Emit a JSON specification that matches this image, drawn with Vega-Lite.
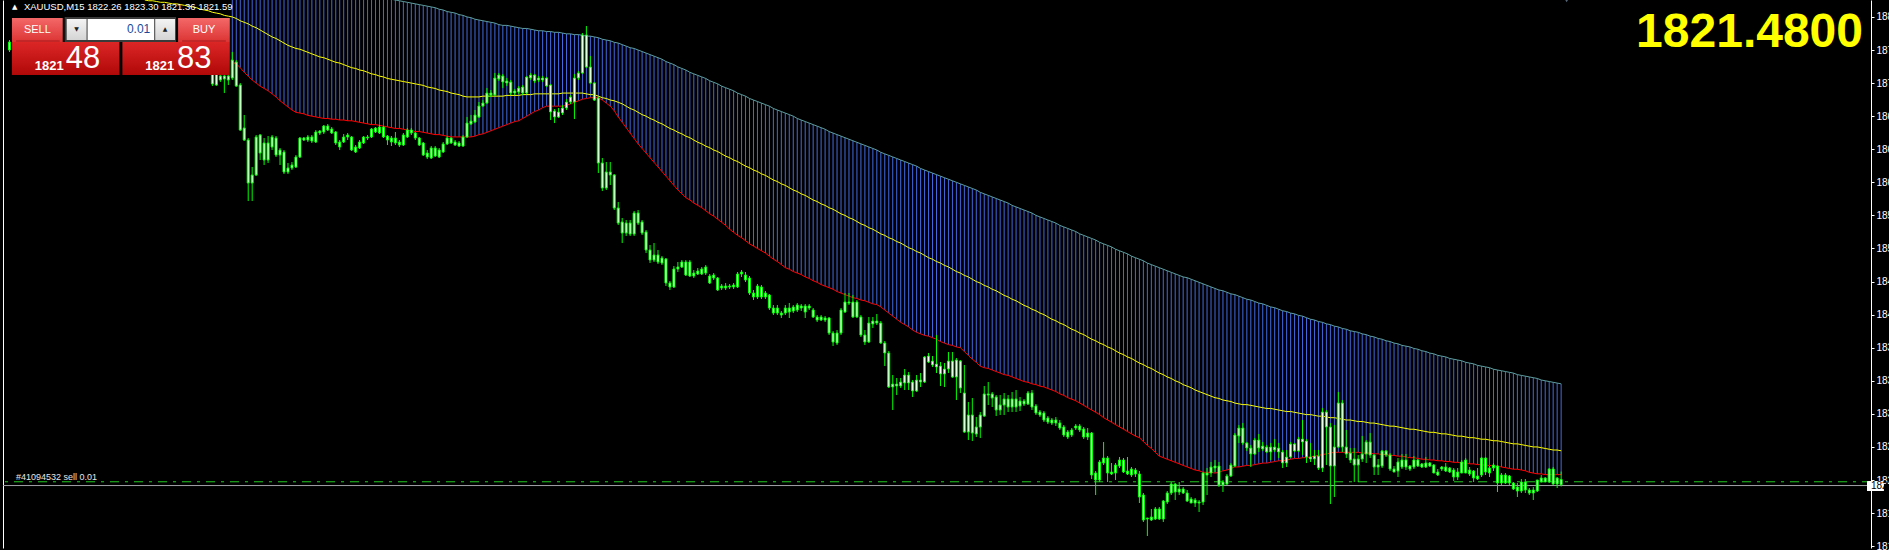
{
"$schema":"https://vega.github.io/schema/vega-lite/v6.json",
"width":1868,"height":548,
"autosize":{"type":"none"},
"padding":{"left":3,"top":0,"right":18,"bottom":2},
"background":"#000000",
"config":{"view":{"stroke":null},"axis":{"grid":false}},
"datasets":{
"bars":[
{"i":0,"o":1879.14,"h":1879.4,"l":1877.84,"c":1878.1},
{"i":51,"o":1875.24,"h":1875.76,"l":1873.42,"c":1873.68},
{"i":52,"o":1873.55,"h":1875.5,"l":1873.42,"c":1874.98},
{"i":53,"o":1874.72,"h":1874.98,"l":1873.94,"c":1874.2},
{"i":54,"o":1874.33,"h":1875.24,"l":1872.51,"c":1874.72},
{"i":55,"o":1874.2,"h":1874.85,"l":1873.55,"c":1874.72},
{"i":56,"o":1874.46,"h":1877.84,"l":1874.2,"c":1876.8},
{"i":57,"o":1876.54,"h":1876.8,"l":1873.29,"c":1873.42},
{"i":58,"o":1873.55,"h":1873.81,"l":1867.57,"c":1867.7},
{"i":59,"o":1867.96,"h":1869.65,"l":1866.27,"c":1866.4},
{"i":60,"o":1866.4,"h":1866.66,"l":1858.47,"c":1860.81},
{"i":61,"o":1860.81,"h":1862.89,"l":1858.47,"c":1861.85},
{"i":62,"o":1861.85,"h":1867.05,"l":1861.72,"c":1866.79},
{"i":63,"o":1867.05,"h":1867.18,"l":1863.8,"c":1864.71},
{"i":64,"o":1863.8,"h":1866.66,"l":1863.15,"c":1866.01},
{"i":65,"o":1866.01,"h":1866.92,"l":1863.41,"c":1863.8},
{"i":66,"o":1865.49,"h":1867.05,"l":1865.1,"c":1866.79},
{"i":67,"o":1866.66,"h":1866.92,"l":1864.19,"c":1864.45},
{"i":68,"o":1865.1,"h":1865.36,"l":1863.15,"c":1864.45},
{"i":69,"o":1864.84,"h":1865.1,"l":1861.98,"c":1862.24},
{"i":70,"o":1862.24,"h":1863.41,"l":1861.98,"c":1862.76},
{"i":71,"o":1862.76,"h":1863.54,"l":1862.5,"c":1863.15},
{"i":72,"o":1862.89,"h":1864.45,"l":1862.76,"c":1864.19},
{"i":73,"o":1864.19,"h":1866.79,"l":1864.06,"c":1866.66},
{"i":74,"o":1866.66,"h":1866.79,"l":1866.27,"c":1866.4},
{"i":75,"o":1866.4,"h":1867.05,"l":1866.14,"c":1866.79},
{"i":76,"o":1866.79,"h":1867.05,"l":1866.01,"c":1866.27},
{"i":77,"o":1866.14,"h":1867.7,"l":1866.01,"c":1867.44},
{"i":78,"o":1867.31,"h":1867.7,"l":1867.05,"c":1867.57},
{"i":79,"o":1867.44,"h":1868.35,"l":1867.18,"c":1868.22},
{"i":80,"o":1868.22,"h":1868.48,"l":1867.57,"c":1867.7},
{"i":81,"o":1867.83,"h":1868.09,"l":1867.18,"c":1867.31},
{"i":82,"o":1867.44,"h":1867.57,"l":1865.75,"c":1866.01},
{"i":83,"o":1865.49,"h":1866.4,"l":1865.1,"c":1866.14},
{"i":84,"o":1866.14,"h":1867.18,"l":1866.01,"c":1866.79},
{"i":85,"o":1867.05,"h":1867.31,"l":1866.4,"c":1866.79},
{"i":86,"o":1866.79,"h":1866.92,"l":1864.97,"c":1865.1},
{"i":87,"o":1864.84,"h":1865.75,"l":1864.71,"c":1865.49},
{"i":88,"o":1865.36,"h":1866.4,"l":1865.23,"c":1866.14},
{"i":89,"o":1866.01,"h":1866.92,"l":1865.88,"c":1866.79},
{"i":90,"o":1866.66,"h":1867.05,"l":1866.4,"c":1866.79},
{"i":91,"o":1866.79,"h":1867.96,"l":1866.66,"c":1867.83},
{"i":92,"o":1867.44,"h":1868.09,"l":1867.31,"c":1867.96},
{"i":93,"o":1868.09,"h":1868.35,"l":1867.18,"c":1867.31},
{"i":94,"o":1868.09,"h":1868.22,"l":1866.66,"c":1866.79},
{"i":95,"o":1866.92,"h":1867.05,"l":1865.75,"c":1866.4},
{"i":96,"o":1866.66,"h":1866.92,"l":1865.62,"c":1866.14},
{"i":97,"o":1866.66,"h":1867.44,"l":1865.75,"c":1866.01},
{"i":98,"o":1865.75,"h":1866.4,"l":1865.49,"c":1866.14},
{"i":99,"o":1865.75,"h":1867.31,"l":1865.62,"c":1867.05},
{"i":100,"o":1866.79,"h":1867.96,"l":1866.66,"c":1867.7},
{"i":101,"o":1867.7,"h":1867.96,"l":1867.05,"c":1867.31},
{"i":102,"o":1867.31,"h":1867.44,"l":1866.4,"c":1866.66},
{"i":103,"o":1866.66,"h":1866.79,"l":1865.62,"c":1865.75},
{"i":104,"o":1866.01,"h":1866.14,"l":1864.32,"c":1864.45},
{"i":105,"o":1864.19,"h":1865.1,"l":1863.93,"c":1864.71},
{"i":106,"o":1864.06,"h":1865.62,"l":1863.93,"c":1865.36},
{"i":107,"o":1865.36,"h":1865.62,"l":1864.19,"c":1864.32},
{"i":108,"o":1864.19,"h":1865.36,"l":1864.06,"c":1865.1},
{"i":109,"o":1864.84,"h":1866.14,"l":1864.71,"c":1865.88},
{"i":110,"o":1865.88,"h":1866.92,"l":1865.75,"c":1866.66},
{"i":111,"o":1866.66,"h":1866.79,"l":1865.88,"c":1866.01},
{"i":112,"o":1866.14,"h":1866.4,"l":1865.62,"c":1865.75},
{"i":113,"o":1865.62,"h":1866.27,"l":1865.49,"c":1866.01},
{"i":114,"o":1865.62,"h":1867.05,"l":1865.49,"c":1866.79},
{"i":115,"o":1866.79,"h":1869.39,"l":1866.66,"c":1868.61},
{"i":116,"o":1868.48,"h":1869.65,"l":1868.35,"c":1868.87},
{"i":117,"o":1868.74,"h":1870.3,"l":1868.61,"c":1869.65},
{"i":118,"o":1869.39,"h":1871.34,"l":1869.26,"c":1870.82},
{"i":119,"o":1870.82,"h":1871.6,"l":1870.69,"c":1871.21},
{"i":120,"o":1871.21,"h":1873.16,"l":1871.08,"c":1872.51},
{"i":121,"o":1872.25,"h":1872.9,"l":1871.99,"c":1872.51},
{"i":122,"o":1872.25,"h":1875.11,"l":1872.12,"c":1874.46},
{"i":123,"o":1874.33,"h":1875.11,"l":1874.07,"c":1874.85},
{"i":124,"o":1874.72,"h":1874.98,"l":1873.16,"c":1873.94},
{"i":125,"o":1874.07,"h":1874.46,"l":1873.42,"c":1873.81},
{"i":126,"o":1873.94,"h":1874.2,"l":1872.25,"c":1872.51},
{"i":127,"o":1872.51,"h":1873.03,"l":1872.25,"c":1872.77},
{"i":128,"o":1873.16,"h":1873.42,"l":1872.38,"c":1872.64},
{"i":129,"o":1872.51,"h":1873.55,"l":1872.25,"c":1873.29},
{"i":130,"o":1872.51,"h":1874.72,"l":1872.38,"c":1874.59},
{"i":131,"o":1874.46,"h":1875.11,"l":1874.2,"c":1874.85},
{"i":132,"o":1874.85,"h":1874.98,"l":1873.81,"c":1874.07},
{"i":133,"o":1874.2,"h":1874.72,"l":1873.94,"c":1874.46},
{"i":134,"o":1874.46,"h":1874.72,"l":1873.94,"c":1874.2},
{"i":135,"o":1874.46,"h":1874.59,"l":1873.29,"c":1873.42},
{"i":136,"o":1873.55,"h":1873.68,"l":1869.0,"c":1870.04},
{"i":137,"o":1870.17,"h":1870.43,"l":1868.61,"c":1869.39},
{"i":138,"o":1869.39,"h":1870.56,"l":1869.26,"c":1870.04},
{"i":139,"o":1869.91,"h":1870.95,"l":1869.65,"c":1870.56},
{"i":140,"o":1870.56,"h":1871.73,"l":1870.3,"c":1871.34},
{"i":141,"o":1871.34,"h":1872.25,"l":1871.08,"c":1871.99},
{"i":142,"o":1871.34,"h":1874.98,"l":1869.13,"c":1874.46},
{"i":143,"o":1874.46,"h":1875.37,"l":1874.2,"c":1875.11},
{"i":144,"o":1875.11,"h":1880.31,"l":1874.98,"c":1880.05},
{"i":145,"o":1880.05,"h":1881.22,"l":1875.76,"c":1875.89},
{"i":146,"o":1875.89,"h":1877.32,"l":1873.68,"c":1873.81},
{"i":147,"o":1873.81,"h":1873.94,"l":1871.47,"c":1871.6},
{"i":148,"o":1871.86,"h":1871.99,"l":1862.11,"c":1863.41},
{"i":149,"o":1863.41,"h":1864.06,"l":1859.77,"c":1860.16},
{"i":150,"o":1860.16,"h":1863.54,"l":1859.9,"c":1862.24},
{"i":151,"o":1862.24,"h":1863.54,"l":1860.55,"c":1861.85},
{"i":152,"o":1861.85,"h":1861.98,"l":1857.3,"c":1857.56},
{"i":153,"o":1857.56,"h":1858.34,"l":1855.35,"c":1855.61},
{"i":154,"o":1855.74,"h":1856.26,"l":1853.01,"c":1854.31},
{"i":155,"o":1854.31,"h":1856.0,"l":1853.92,"c":1855.61},
{"i":156,"o":1855.61,"h":1856.0,"l":1853.92,"c":1854.18},
{"i":157,"o":1854.18,"h":1857.17,"l":1853.92,"c":1856.91},
{"i":158,"o":1856.91,"h":1857.3,"l":1855.35,"c":1855.61},
{"i":159,"o":1855.74,"h":1856.0,"l":1854.05,"c":1854.31},
{"i":160,"o":1854.44,"h":1854.7,"l":1851.71,"c":1852.1},
{"i":161,"o":1852.1,"h":1852.75,"l":1850.41,"c":1850.8},
{"i":162,"o":1850.8,"h":1853.01,"l":1850.54,"c":1851.45},
{"i":163,"o":1851.45,"h":1852.1,"l":1850.28,"c":1850.54},
{"i":164,"o":1850.41,"h":1851.32,"l":1850.15,"c":1851.06},
{"i":165,"o":1850.93,"h":1851.06,"l":1847.42,"c":1847.81},
{"i":166,"o":1847.81,"h":1848.07,"l":1846.9,"c":1847.29},
{"i":167,"o":1847.29,"h":1850.02,"l":1847.16,"c":1849.63},
{"i":168,"o":1849.63,"h":1850.54,"l":1849.24,"c":1849.89},
{"i":169,"o":1849.89,"h":1850.8,"l":1849.76,"c":1850.54},
{"i":170,"o":1850.54,"h":1850.8,"l":1848.72,"c":1848.85},
{"i":171,"o":1850.54,"h":1850.8,"l":1848.59,"c":1848.72},
{"i":172,"o":1848.72,"h":1849.5,"l":1848.46,"c":1849.11},
{"i":173,"o":1848.98,"h":1849.76,"l":1848.85,"c":1849.37},
{"i":174,"o":1848.98,"h":1849.89,"l":1848.85,"c":1849.63},
{"i":175,"o":1849.89,"h":1850.15,"l":1848.85,"c":1849.11},
{"i":176,"o":1848.72,"h":1848.98,"l":1847.68,"c":1847.81},
{"i":177,"o":1848.46,"h":1849.11,"l":1848.2,"c":1848.85},
{"i":178,"o":1848.46,"h":1848.59,"l":1846.77,"c":1846.9},
{"i":179,"o":1847.16,"h":1847.68,"l":1846.9,"c":1847.42},
{"i":180,"o":1847.42,"h":1847.81,"l":1846.9,"c":1847.16},
{"i":181,"o":1847.29,"h":1847.68,"l":1847.03,"c":1847.42},
{"i":182,"o":1847.29,"h":1847.81,"l":1847.03,"c":1847.55},
{"i":183,"o":1847.29,"h":1849.24,"l":1847.16,"c":1848.98},
{"i":184,"o":1849.24,"h":1849.5,"l":1848.59,"c":1848.98},
{"i":185,"o":1848.85,"h":1849.24,"l":1847.94,"c":1848.2},
{"i":186,"o":1848.46,"h":1848.72,"l":1846.25,"c":1846.51},
{"i":187,"o":1845.99,"h":1846.9,"l":1845.6,"c":1846.51},
{"i":188,"o":1845.99,"h":1847.68,"l":1845.73,"c":1847.42},
{"i":189,"o":1847.29,"h":1847.55,"l":1845.73,"c":1845.99},
{"i":190,"o":1846.51,"h":1846.77,"l":1845.73,"c":1845.99},
{"i":191,"o":1846.25,"h":1846.38,"l":1844.3,"c":1844.56},
{"i":192,"o":1844.56,"h":1844.95,"l":1843.65,"c":1843.91},
{"i":193,"o":1843.91,"h":1844.95,"l":1843.65,"c":1844.56},
{"i":194,"o":1843.91,"h":1844.17,"l":1843.26,"c":1843.65},
{"i":195,"o":1843.91,"h":1844.95,"l":1843.65,"c":1844.56},
{"i":196,"o":1844.56,"h":1845.21,"l":1843.26,"c":1844.04},
{"i":197,"o":1844.17,"h":1844.95,"l":1843.91,"c":1844.69},
{"i":198,"o":1844.3,"h":1845.21,"l":1844.04,"c":1844.95},
{"i":199,"o":1844.82,"h":1845.08,"l":1844.17,"c":1844.56},
{"i":200,"o":1844.04,"h":1845.08,"l":1843.26,"c":1844.82},
{"i":201,"o":1844.82,"h":1845.08,"l":1844.3,"c":1844.56},
{"i":202,"o":1844.3,"h":1844.56,"l":1843.26,"c":1843.39},
{"i":203,"o":1843.39,"h":1843.65,"l":1842.74,"c":1843.0},
{"i":204,"o":1843.0,"h":1843.65,"l":1842.87,"c":1843.39},
{"i":205,"o":1843.26,"h":1843.52,"l":1842.74,"c":1843.0},
{"i":206,"o":1843.26,"h":1843.39,"l":1841.05,"c":1841.31},
{"i":207,"o":1841.31,"h":1841.57,"l":1839.62,"c":1840.14},
{"i":208,"o":1840.01,"h":1841.7,"l":1839.75,"c":1841.31},
{"i":209,"o":1841.31,"h":1844.56,"l":1841.05,"c":1844.3},
{"i":210,"o":1844.04,"h":1846.51,"l":1843.91,"c":1845.34},
{"i":211,"o":1845.34,"h":1846.51,"l":1844.95,"c":1845.21},
{"i":212,"o":1845.34,"h":1846.25,"l":1843.26,"c":1843.39},
{"i":213,"o":1843.39,"h":1845.6,"l":1843.26,"c":1845.34},
{"i":214,"o":1843.39,"h":1843.65,"l":1840.79,"c":1841.05},
{"i":215,"o":1841.05,"h":1841.7,"l":1839.75,"c":1840.14},
{"i":216,"o":1840.14,"h":1843.39,"l":1840.01,"c":1842.61},
{"i":217,"o":1842.48,"h":1843.39,"l":1841.96,"c":1842.87},
{"i":218,"o":1842.87,"h":1843.78,"l":1842.35,"c":1842.61},
{"i":219,"o":1842.61,"h":1842.87,"l":1839.88,"c":1840.01},
{"i":220,"o":1840.01,"h":1840.27,"l":1837.02,"c":1838.71},
{"i":221,"o":1838.71,"h":1838.97,"l":1834.16,"c":1834.29},
{"i":222,"o":1834.29,"h":1835.85,"l":1831.3,"c":1834.68},
{"i":223,"o":1834.68,"h":1835.46,"l":1833.25,"c":1834.42},
{"i":224,"o":1834.42,"h":1835.46,"l":1834.16,"c":1834.94},
{"i":225,"o":1834.81,"h":1836.63,"l":1833.9,"c":1835.85},
{"i":226,"o":1835.85,"h":1836.24,"l":1833.9,"c":1834.81},
{"i":227,"o":1834.94,"h":1835.2,"l":1832.99,"c":1833.77},
{"i":228,"o":1833.77,"h":1835.85,"l":1833.64,"c":1835.2},
{"i":229,"o":1834.94,"h":1836.11,"l":1834.29,"c":1835.2},
{"i":230,"o":1834.94,"h":1838.32,"l":1834.81,"c":1838.19},
{"i":231,"o":1838.32,"h":1838.71,"l":1837.41,"c":1837.54},
{"i":232,"o":1837.67,"h":1838.32,"l":1836.89,"c":1837.15},
{"i":233,"o":1837.28,"h":1841.05,"l":1836.11,"c":1836.89},
{"i":234,"o":1837.02,"h":1837.54,"l":1834.42,"c":1835.98},
{"i":235,"o":1835.98,"h":1837.41,"l":1834.29,"c":1836.63},
{"i":236,"o":1836.63,"h":1838.84,"l":1836.11,"c":1837.67},
{"i":237,"o":1837.67,"h":1838.84,"l":1835.46,"c":1835.59},
{"i":238,"o":1835.59,"h":1838.06,"l":1832.6,"c":1837.8},
{"i":239,"o":1837.67,"h":1837.8,"l":1833.51,"c":1834.16},
{"i":240,"o":1833.51,"h":1837.15,"l":1828.31,"c":1828.44},
{"i":241,"o":1828.44,"h":1832.34,"l":1827.4,"c":1830.65},
{"i":242,"o":1830.65,"h":1832.86,"l":1827.27,"c":1828.31},
{"i":243,"o":1829.09,"h":1830.39,"l":1827.79,"c":1828.18},
{"i":244,"o":1829.09,"h":1831.04,"l":1827.66,"c":1830.65},
{"i":245,"o":1830.52,"h":1834.42,"l":1830.39,"c":1833.38},
{"i":246,"o":1833.38,"h":1834.94,"l":1831.95,"c":1833.25},
{"i":247,"o":1833.38,"h":1833.64,"l":1831.69,"c":1832.86},
{"i":248,"o":1832.99,"h":1833.25,"l":1830.52,"c":1831.3},
{"i":249,"o":1831.3,"h":1833.25,"l":1830.65,"c":1831.95},
{"i":250,"o":1831.95,"h":1833.51,"l":1830.65,"c":1832.73},
{"i":251,"o":1832.73,"h":1833.25,"l":1831.04,"c":1831.69},
{"i":252,"o":1831.69,"h":1833.64,"l":1831.04,"c":1832.73},
{"i":253,"o":1832.73,"h":1833.9,"l":1831.04,"c":1831.69},
{"i":254,"o":1831.82,"h":1832.99,"l":1831.17,"c":1832.47},
{"i":255,"o":1832.08,"h":1832.73,"l":1831.82,"c":1832.47},
{"i":256,"o":1832.08,"h":1833.77,"l":1831.95,"c":1833.51},
{"i":257,"o":1833.51,"h":1833.9,"l":1831.3,"c":1831.69},
{"i":258,"o":1831.82,"h":1832.08,"l":1830.65,"c":1830.91},
{"i":259,"o":1831.04,"h":1831.3,"l":1830.39,"c":1830.65},
{"i":260,"o":1830.91,"h":1831.17,"l":1829.74,"c":1830.0},
{"i":261,"o":1830.26,"h":1830.52,"l":1829.48,"c":1829.74},
{"i":262,"o":1829.61,"h":1830.26,"l":1829.35,"c":1830.0},
{"i":263,"o":1830.0,"h":1830.39,"l":1829.22,"c":1829.61},
{"i":264,"o":1829.61,"h":1830.0,"l":1828.7,"c":1828.96},
{"i":265,"o":1829.09,"h":1829.35,"l":1827.79,"c":1828.05},
{"i":266,"o":1827.79,"h":1828.7,"l":1827.53,"c":1828.44},
{"i":267,"o":1828.05,"h":1828.96,"l":1827.79,"c":1828.7},
{"i":268,"o":1828.96,"h":1829.48,"l":1828.7,"c":1829.22},
{"i":269,"o":1829.22,"h":1829.48,"l":1828.44,"c":1828.7},
{"i":270,"o":1828.83,"h":1829.09,"l":1827.53,"c":1827.79},
{"i":271,"o":1827.79,"h":1828.96,"l":1827.4,"c":1828.31},
{"i":272,"o":1828.31,"h":1828.44,"l":1822.33,"c":1822.85},
{"i":273,"o":1823.11,"h":1823.37,"l":1820.25,"c":1822.2},
{"i":274,"o":1822.2,"h":1824.8,"l":1821.94,"c":1824.54},
{"i":275,"o":1824.41,"h":1827.14,"l":1824.15,"c":1825.06},
{"i":276,"o":1825.06,"h":1825.32,"l":1821.94,"c":1823.11},
{"i":277,"o":1823.24,"h":1824.41,"l":1822.85,"c":1822.98},
{"i":278,"o":1823.11,"h":1824.41,"l":1822.2,"c":1824.15},
{"i":279,"o":1824.02,"h":1825.19,"l":1823.76,"c":1824.8},
{"i":280,"o":1824.8,"h":1825.06,"l":1823.11,"c":1823.24},
{"i":281,"o":1823.37,"h":1825.19,"l":1822.85,"c":1822.98},
{"i":282,"o":1822.85,"h":1823.89,"l":1822.59,"c":1823.63},
{"i":283,"o":1823.5,"h":1823.76,"l":1822.59,"c":1822.98},
{"i":284,"o":1822.98,"h":1823.37,"l":1819.21,"c":1819.99},
{"i":285,"o":1820.25,"h":1820.51,"l":1816.74,"c":1817.0},
{"i":286,"o":1817.13,"h":1817.26,"l":1814.92,"c":1817.26},
{"i":287,"o":1817.0,"h":1818.43,"l":1816.87,"c":1817.39},
{"i":288,"o":1817.13,"h":1818.69,"l":1817.0,"c":1818.43},
{"i":289,"o":1818.43,"h":1818.69,"l":1817.0,"c":1817.13},
{"i":290,"o":1817.13,"h":1819.6,"l":1816.74,"c":1819.47},
{"i":291,"o":1819.34,"h":1820.77,"l":1819.08,"c":1820.51},
{"i":292,"o":1820.51,"h":1821.94,"l":1820.25,"c":1821.68},
{"i":293,"o":1821.68,"h":1821.81,"l":1819.6,"c":1820.64},
{"i":294,"o":1820.64,"h":1821.94,"l":1820.25,"c":1821.03},
{"i":295,"o":1821.03,"h":1821.29,"l":1820.38,"c":1820.51},
{"i":296,"o":1820.51,"h":1820.9,"l":1819.34,"c":1819.47},
{"i":297,"o":1819.73,"h":1819.99,"l":1819.21,"c":1819.21},
{"i":298,"o":1819.21,"h":1819.86,"l":1818.69,"c":1819.6},
{"i":299,"o":1819.34,"h":1819.6,"l":1818.04,"c":1819.21},
{"i":300,"o":1819.34,"h":1823.24,"l":1818.95,"c":1823.11},
{"i":301,"o":1823.11,"h":1823.76,"l":1820.25,"c":1822.85},
{"i":302,"o":1823.11,"h":1824.54,"l":1822.59,"c":1823.89},
{"i":303,"o":1823.76,"h":1824.8,"l":1823.24,"c":1824.02},
{"i":304,"o":1824.02,"h":1824.54,"l":1821.29,"c":1821.55},
{"i":305,"o":1821.55,"h":1822.2,"l":1820.64,"c":1821.94},
{"i":306,"o":1821.68,"h":1822.98,"l":1821.55,"c":1822.72},
{"i":307,"o":1822.72,"h":1824.41,"l":1822.59,"c":1824.15},
{"i":308,"o":1824.02,"h":1828.31,"l":1823.89,"c":1828.05},
{"i":309,"o":1827.92,"h":1829.35,"l":1827.01,"c":1828.96},
{"i":310,"o":1828.96,"h":1829.61,"l":1826.75,"c":1827.01},
{"i":311,"o":1827.01,"h":1827.14,"l":1825.97,"c":1826.36},
{"i":312,"o":1826.36,"h":1826.75,"l":1823.89,"c":1825.58},
{"i":313,"o":1825.58,"h":1827.66,"l":1825.45,"c":1827.4},
{"i":314,"o":1827.4,"h":1828.18,"l":1825.84,"c":1826.36},
{"i":315,"o":1826.62,"h":1827.14,"l":1825.97,"c":1826.23},
{"i":316,"o":1825.84,"h":1826.75,"l":1825.71,"c":1826.49},
{"i":317,"o":1826.49,"h":1827.01,"l":1824.8,"c":1825.84},
{"i":318,"o":1826.1,"h":1827.53,"l":1825.84,"c":1826.49},
{"i":319,"o":1826.36,"h":1827.01,"l":1825.06,"c":1825.84},
{"i":320,"o":1825.84,"h":1826.1,"l":1823.76,"c":1824.41},
{"i":321,"o":1824.41,"h":1826.1,"l":1823.89,"c":1825.19},
{"i":322,"o":1825.19,"h":1827.14,"l":1825.06,"c":1826.88},
{"i":323,"o":1826.88,"h":1827.01,"l":1825.84,"c":1825.97},
{"i":324,"o":1825.97,"h":1827.79,"l":1825.84,"c":1827.53},
{"i":325,"o":1827.53,"h":1830.0,"l":1825.45,"c":1827.14},
{"i":326,"o":1827.27,"h":1827.53,"l":1824.41,"c":1825.19},
{"i":327,"o":1824.93,"h":1827.01,"l":1824.54,"c":1825.19},
{"i":328,"o":1824.93,"h":1826.1,"l":1824.15,"c":1825.32},
{"i":329,"o":1825.32,"h":1826.1,"l":1823.5,"c":1823.76},
{"i":330,"o":1823.76,"h":1831.56,"l":1823.24,"c":1831.04},
{"i":331,"o":1831.04,"h":1831.3,"l":1824.15,"c":1829.09},
{"i":332,"o":1829.09,"h":1829.61,"l":1819.08,"c":1824.02},
{"i":333,"o":1824.02,"h":1829.35,"l":1819.99,"c":1826.49},
{"i":334,"o":1826.49,"h":1833.64,"l":1826.36,"c":1832.21},
{"i":335,"o":1832.21,"h":1832.6,"l":1825.84,"c":1826.49},
{"i":336,"o":1826.49,"h":1828.7,"l":1825.06,"c":1825.58},
{"i":337,"o":1825.71,"h":1826.36,"l":1824.41,"c":1824.8},
{"i":338,"o":1824.93,"h":1826.36,"l":1821.94,"c":1824.15},
{"i":339,"o":1824.15,"h":1825.45,"l":1821.94,"c":1824.93},
{"i":340,"o":1824.93,"h":1827.92,"l":1824.54,"c":1825.58},
{"i":341,"o":1825.58,"h":1827.4,"l":1824.41,"c":1827.14},
{"i":342,"o":1827.14,"h":1828.31,"l":1825.06,"c":1825.45},
{"i":343,"o":1825.45,"h":1825.58,"l":1822.85,"c":1823.89},
{"i":344,"o":1823.89,"h":1824.93,"l":1822.85,"c":1824.15},
{"i":345,"o":1824.02,"h":1826.1,"l":1823.76,"c":1825.97},
{"i":346,"o":1825.97,"h":1826.1,"l":1825.19,"c":1825.45},
{"i":347,"o":1825.45,"h":1825.71,"l":1823.37,"c":1823.63},
{"i":348,"o":1823.24,"h":1824.02,"l":1823.24,"c":1823.63},
{"i":349,"o":1823.37,"h":1825.06,"l":1822.59,"c":1824.54},
{"i":350,"o":1824.8,"h":1825.58,"l":1823.63,"c":1823.89},
{"i":351,"o":1823.89,"h":1825.58,"l":1823.5,"c":1824.8},
{"i":352,"o":1824.02,"h":1824.15,"l":1823.37,"c":1823.63},
{"i":353,"o":1823.89,"h":1825.32,"l":1823.63,"c":1824.8},
{"i":354,"o":1824.8,"h":1824.93,"l":1823.89,"c":1824.02},
{"i":355,"o":1823.89,"h":1824.41,"l":1823.76,"c":1824.28},
{"i":356,"o":1823.89,"h":1825.19,"l":1823.76,"c":1824.41},
{"i":357,"o":1824.41,"h":1824.54,"l":1823.89,"c":1824.02},
{"i":358,"o":1824.15,"h":1824.28,"l":1823.11,"c":1823.11},
{"i":359,"o":1823.24,"h":1823.63,"l":1822.72,"c":1822.85},
{"i":360,"o":1823.63,"h":1824.02,"l":1823.37,"c":1823.89},
{"i":361,"o":1823.89,"h":1824.41,"l":1823.24,"c":1823.37},
{"i":362,"o":1823.76,"h":1823.89,"l":1823.11,"c":1823.24},
{"i":363,"o":1823.5,"h":1823.76,"l":1822.07,"c":1822.59},
{"i":364,"o":1822.59,"h":1823.76,"l":1822.2,"c":1823.24},
{"i":365,"o":1823.11,"h":1824.8,"l":1823.11,"c":1824.54},
{"i":366,"o":1824.8,"h":1825.06,"l":1823.11,"c":1823.11},
{"i":367,"o":1823.5,"h":1823.89,"l":1822.72,"c":1822.98},
{"i":368,"o":1823.37,"h":1823.5,"l":1821.94,"c":1822.46},
{"i":369,"o":1822.33,"h":1823.76,"l":1822.2,"c":1822.72},
{"i":370,"o":1822.85,"h":1825.19,"l":1822.59,"c":1825.06},
{"i":371,"o":1825.06,"h":1825.19,"l":1822.85,"c":1823.24},
{"i":372,"o":1823.76,"h":1824.02,"l":1822.59,"c":1823.11},
{"i":373,"o":1823.76,"h":1824.41,"l":1823.37,"c":1824.15},
{"i":374,"o":1824.02,"h":1824.15,"l":1820.64,"c":1821.81},
{"i":375,"o":1821.81,"h":1823.11,"l":1821.55,"c":1822.85},
{"i":376,"o":1822.85,"h":1823.11,"l":1821.68,"c":1821.81},
{"i":377,"o":1821.81,"h":1822.85,"l":1821.55,"c":1822.72},
{"i":378,"o":1821.81,"h":1821.94,"l":1820.9,"c":1821.03},
{"i":379,"o":1821.29,"h":1821.81,"l":1819.99,"c":1820.77},
{"i":380,"o":1820.77,"h":1822.33,"l":1820.51,"c":1821.94},
{"i":381,"o":1821.94,"h":1822.33,"l":1820.51,"c":1820.9},
{"i":382,"o":1820.9,"h":1821.16,"l":1820.25,"c":1820.51},
{"i":383,"o":1820.51,"h":1821.29,"l":1819.6,"c":1820.9},
{"i":384,"o":1820.77,"h":1822.2,"l":1820.64,"c":1822.2},
{"i":385,"o":1821.94,"h":1822.85,"l":1821.94,"c":1822.46},
{"i":386,"o":1822.46,"h":1822.59,"l":1821.94,"c":1821.94},
{"i":387,"o":1821.94,"h":1823.76,"l":1821.81,"c":1823.63},
{"i":388,"o":1823.63,"h":1823.89,"l":1821.55,"c":1821.68},
{"i":389,"o":1821.68,"h":1822.59,"l":1821.16,"c":1822.46},
{"i":390,"o":1822.26,"h":1823.3,"l":1821.36,"c":1821.59}
],
"band":[
{"i":34,"m":1884.6},{"i":35,"m":1884.5},{"i":36,"m":1884.5},{"i":37,"m":1884.4},{"i":38,"m":1884.3},{"i":39,"m":1884.3},{"i":40,"m":1884.2},{"i":41,"m":1884.1},{"i":42,"m":1884.1},{"i":43,"m":1884.0},{"i":44,"m":1883.9},{"i":45,"m":1883.8},{"i":46,"m":1883.7},{"i":47,"m":1883.6},{"i":48,"m":1883.4},{"i":49,"m":1883.3},{"i":50,"m":1883.2},{"i":51,"m":1883.0},{"i":52,"m":1882.9},{"i":53,"m":1882.8},{"i":54,"m":1882.6},{"i":55,"m":1882.5},
{"i":56,"u":1890.3,"m":1882.4,"b":1876.5},
{"i":57,"u":1890.2,"m":1882.2,"b":1876.3},
{"i":58,"u":1890.0,"m":1881.9,"b":1875.8},
{"i":59,"u":1889.9,"m":1881.7,"b":1875.2},
{"i":60,"u":1889.7,"m":1881.5,"b":1874.7},
{"i":61,"u":1889.6,"m":1881.2,"b":1874.2},
{"i":62,"u":1889.5,"m":1881.0,"b":1873.8},
{"i":63,"u":1889.3,"m":1880.7,"b":1873.4},
{"i":64,"u":1889.2,"m":1880.4,"b":1873.1},
{"i":65,"u":1889.0,"m":1880.1,"b":1872.8},
{"i":66,"u":1888.9,"m":1879.8,"b":1872.4},
{"i":67,"u":1888.8,"m":1879.6,"b":1872.0},
{"i":68,"u":1888.6,"m":1879.3,"b":1871.5},
{"i":69,"u":1888.5,"m":1879.0,"b":1871.1},
{"i":70,"u":1888.3,"m":1878.7,"b":1870.7},
{"i":71,"u":1888.2,"m":1878.5,"b":1870.3},
{"i":72,"u":1888.1,"m":1878.3,"b":1870.0},
{"i":73,"u":1887.9,"m":1878.2,"b":1869.9},
{"i":74,"u":1887.8,"m":1878.0,"b":1869.8},
{"i":75,"u":1887.6,"m":1877.8,"b":1869.6},
{"i":76,"u":1887.5,"m":1877.6,"b":1869.5},
{"i":77,"u":1887.4,"m":1877.4,"b":1869.4},
{"i":78,"u":1887.2,"m":1877.2,"b":1869.3},
{"i":79,"u":1887.1,"m":1877.1,"b":1869.2},
{"i":80,"u":1886.9,"m":1876.9,"b":1869.2},
{"i":81,"u":1886.8,"m":1876.7,"b":1869.1},
{"i":82,"u":1886.7,"m":1876.5,"b":1869.1},
{"i":83,"u":1886.5,"m":1876.4,"b":1869.0},
{"i":84,"u":1886.4,"m":1876.2,"b":1869.0},
{"i":85,"u":1886.3,"m":1876.0,"b":1868.9},
{"i":86,"u":1886.1,"m":1875.8,"b":1868.9},
{"i":87,"u":1886.0,"m":1875.7,"b":1868.8},
{"i":88,"u":1885.8,"m":1875.5,"b":1868.7},
{"i":89,"u":1885.7,"m":1875.4,"b":1868.6},
{"i":90,"u":1885.6,"m":1875.2,"b":1868.5},
{"i":91,"u":1885.4,"m":1875.0,"b":1868.4},
{"i":92,"u":1885.3,"m":1874.9,"b":1868.4},
{"i":93,"u":1885.1,"m":1874.7,"b":1868.3},
{"i":94,"u":1885.0,"m":1874.6,"b":1868.2},
{"i":95,"u":1884.9,"m":1874.4,"b":1868.1},
{"i":96,"u":1884.7,"m":1874.3,"b":1868.0},
{"i":97,"u":1884.6,"m":1874.2,"b":1867.9},
{"i":98,"u":1884.5,"m":1874.1,"b":1867.9},
{"i":99,"u":1884.4,"m":1874.0,"b":1867.8},
{"i":100,"u":1884.3,"m":1873.9,"b":1867.7},
{"i":101,"u":1884.2,"m":1873.8,"b":1867.6},
{"i":102,"u":1884.1,"m":1873.7,"b":1867.5},
{"i":103,"u":1884.0,"m":1873.6,"b":1867.5},
{"i":104,"u":1883.9,"m":1873.5,"b":1867.4},
{"i":105,"u":1883.8,"m":1873.3,"b":1867.3},
{"i":106,"u":1883.7,"m":1873.2,"b":1867.2},
{"i":107,"u":1883.6,"m":1873.1,"b":1867.1},
{"i":108,"u":1883.4,"m":1872.9,"b":1867.1},
{"i":109,"u":1883.3,"m":1872.8,"b":1867.0},
{"i":110,"u":1883.1,"m":1872.7,"b":1866.9},
{"i":111,"u":1883.0,"m":1872.5,"b":1866.8},
{"i":112,"u":1882.9,"m":1872.4,"b":1866.8},
{"i":113,"u":1882.7,"m":1872.3,"b":1866.8},
{"i":114,"u":1882.6,"m":1872.1,"b":1866.8},
{"i":115,"u":1882.4,"m":1872.0,"b":1866.8},
{"i":116,"u":1882.3,"m":1872.0,"b":1866.8},
{"i":117,"u":1882.1,"m":1872.0,"b":1866.9},
{"i":118,"u":1882.0,"m":1872.0,"b":1867.1},
{"i":119,"u":1881.9,"m":1872.1,"b":1867.2},
{"i":120,"u":1881.8,"m":1872.1,"b":1867.4},
{"i":121,"u":1881.7,"m":1872.1,"b":1867.6},
{"i":122,"u":1881.6,"m":1872.1,"b":1867.8},
{"i":123,"u":1881.4,"m":1872.1,"b":1868.0},
{"i":124,"u":1881.3,"m":1872.1,"b":1868.2},
{"i":125,"u":1881.3,"m":1872.2,"b":1868.4},
{"i":126,"u":1881.2,"m":1872.2,"b":1868.6},
{"i":127,"u":1881.1,"m":1872.2,"b":1868.8},
{"i":128,"u":1881.0,"m":1872.2,"b":1868.9},
{"i":129,"u":1880.9,"m":1872.3,"b":1869.2},
{"i":130,"u":1880.9,"m":1872.3,"b":1869.5},
{"i":131,"u":1880.8,"m":1872.3,"b":1869.8},
{"i":132,"u":1880.7,"m":1872.4,"b":1870.1},
{"i":133,"u":1880.6,"m":1872.4,"b":1870.3},
{"i":134,"u":1880.6,"m":1872.4,"b":1870.6},
{"i":135,"u":1880.5,"m":1872.4,"b":1870.8},
{"i":136,"u":1880.5,"m":1872.4,"b":1870.8},
{"i":137,"u":1880.4,"m":1872.4,"b":1870.8},
{"i":138,"u":1880.4,"m":1872.4,"b":1870.8},
{"i":139,"u":1880.3,"m":1872.5,"b":1870.8},
{"i":140,"u":1880.2,"m":1872.5,"b":1870.9},
{"i":141,"u":1880.2,"m":1872.5,"b":1871.1},
{"i":142,"u":1880.1,"m":1872.5,"b":1871.3},
{"i":143,"u":1880.1,"m":1872.5,"b":1871.5},
{"i":144,"u":1880.0,"m":1872.5,"b":1871.7},
{"i":145,"u":1879.9,"m":1872.4,"b":1871.8},
{"i":146,"u":1879.9,"m":1872.3,"b":1871.9},
{"i":147,"u":1879.8,"m":1872.3,"b":1871.9},
{"i":148,"u":1879.7,"m":1872.1,"b":1871.9},
{"i":149,"u":1879.5,"m":1871.9,"b":1871.6},
{"i":150,"u":1879.4,"m":1871.8,"b":1871.2},
{"i":151,"u":1879.3,"m":1871.6,"b":1870.8},
{"i":152,"u":1879.1,"m":1871.5,"b":1870.2},
{"i":153,"u":1879.0,"m":1871.3,"b":1869.4},
{"i":154,"u":1878.8,"m":1871.1,"b":1868.7},
{"i":155,"u":1878.6,"m":1870.8,"b":1868.0},
{"i":156,"u":1878.4,"m":1870.5,"b":1867.3},
{"i":157,"u":1878.3,"m":1870.3,"b":1866.6},
{"i":158,"u":1878.1,"m":1870.0,"b":1865.9},
{"i":159,"u":1877.9,"m":1869.7,"b":1865.3},
{"i":160,"u":1877.7,"m":1869.5,"b":1864.7},
{"i":161,"u":1877.5,"m":1869.2,"b":1864.1},
{"i":162,"u":1877.3,"m":1869.0,"b":1863.5},
{"i":163,"u":1877.1,"m":1868.7,"b":1862.9},
{"i":164,"u":1876.9,"m":1868.5,"b":1862.3},
{"i":165,"u":1876.6,"m":1868.2,"b":1861.7},
{"i":166,"u":1876.4,"m":1867.9,"b":1861.1},
{"i":167,"u":1876.2,"m":1867.7,"b":1860.5},
{"i":168,"u":1875.9,"m":1867.4,"b":1859.9},
{"i":169,"u":1875.7,"m":1867.2,"b":1859.4},
{"i":170,"u":1875.5,"m":1866.9,"b":1858.9},
{"i":171,"u":1875.2,"m":1866.7,"b":1858.6},
{"i":172,"u":1875.0,"m":1866.4,"b":1858.2},
{"i":173,"u":1874.8,"m":1866.1,"b":1857.9},
{"i":174,"u":1874.6,"m":1865.9,"b":1857.6},
{"i":175,"u":1874.4,"m":1865.6,"b":1857.2},
{"i":176,"u":1874.1,"m":1865.4,"b":1856.8},
{"i":177,"u":1873.9,"m":1865.1,"b":1856.5},
{"i":178,"u":1873.7,"m":1864.9,"b":1856.1},
{"i":179,"u":1873.4,"m":1864.6,"b":1855.7},
{"i":180,"u":1873.2,"m":1864.3,"b":1855.3},
{"i":181,"u":1873.0,"m":1864.1,"b":1854.8},
{"i":182,"u":1872.8,"m":1863.8,"b":1854.4},
{"i":183,"u":1872.5,"m":1863.6,"b":1854.0},
{"i":184,"u":1872.3,"m":1863.3,"b":1853.7},
{"i":185,"u":1872.1,"m":1863.0,"b":1853.3},
{"i":186,"u":1871.8,"m":1862.8,"b":1852.9},
{"i":187,"u":1871.6,"m":1862.5,"b":1852.6},
{"i":188,"u":1871.4,"m":1862.3,"b":1852.3},
{"i":189,"u":1871.2,"m":1862.0,"b":1852.0},
{"i":190,"u":1871.0,"m":1861.8,"b":1851.7},
{"i":191,"u":1870.8,"m":1861.5,"b":1851.3},
{"i":192,"u":1870.5,"m":1861.2,"b":1850.9},
{"i":193,"u":1870.3,"m":1861.0,"b":1850.6},
{"i":194,"u":1870.1,"m":1860.7,"b":1850.2},
{"i":195,"u":1869.9,"m":1860.5,"b":1849.8},
{"i":196,"u":1869.7,"m":1860.2,"b":1849.6},
{"i":197,"u":1869.5,"m":1859.9,"b":1849.3},
{"i":198,"u":1869.2,"m":1859.7,"b":1849.1},
{"i":199,"u":1869.0,"m":1859.4,"b":1848.9},
{"i":200,"u":1868.8,"m":1859.2,"b":1848.6},
{"i":201,"u":1868.6,"m":1858.9,"b":1848.4},
{"i":202,"u":1868.4,"m":1858.6,"b":1848.1},
{"i":203,"u":1868.2,"m":1858.4,"b":1847.9},
{"i":204,"u":1868.0,"m":1858.1,"b":1847.6},
{"i":205,"u":1867.8,"m":1857.9,"b":1847.4},
{"i":206,"u":1867.5,"m":1857.6,"b":1847.2},
{"i":207,"u":1867.3,"m":1857.4,"b":1847.0},
{"i":208,"u":1867.1,"m":1857.1,"b":1846.7},
{"i":209,"u":1866.9,"m":1856.8,"b":1846.5},
{"i":210,"u":1866.7,"m":1856.6,"b":1846.3},
{"i":211,"u":1866.5,"m":1856.3,"b":1846.1},
{"i":212,"u":1866.3,"m":1856.1,"b":1845.9},
{"i":213,"u":1866.1,"m":1855.8,"b":1845.8},
{"i":214,"u":1865.9,"m":1855.5,"b":1845.6},
{"i":215,"u":1865.7,"m":1855.3,"b":1845.5},
{"i":216,"u":1865.5,"m":1855.0,"b":1845.3},
{"i":217,"u":1865.3,"m":1854.8,"b":1845.1},
{"i":218,"u":1865.1,"m":1854.5,"b":1845.0},
{"i":219,"u":1864.8,"m":1854.2,"b":1844.7},
{"i":220,"u":1864.6,"m":1854.0,"b":1844.3},
{"i":221,"u":1864.4,"m":1853.7,"b":1843.9},
{"i":222,"u":1864.2,"m":1853.5,"b":1843.5},
{"i":223,"u":1864.0,"m":1853.2,"b":1843.1},
{"i":224,"u":1863.8,"m":1853.0,"b":1842.7},
{"i":225,"u":1863.6,"m":1852.7,"b":1842.4},
{"i":226,"u":1863.4,"m":1852.4,"b":1842.1},
{"i":227,"u":1863.2,"m":1852.2,"b":1841.7},
{"i":228,"u":1863.0,"m":1851.9,"b":1841.4},
{"i":229,"u":1862.7,"m":1851.7,"b":1841.2},
{"i":230,"u":1862.5,"m":1851.4,"b":1841.0},
{"i":231,"u":1862.3,"m":1851.1,"b":1840.9},
{"i":232,"u":1862.1,"m":1850.9,"b":1840.7},
{"i":233,"u":1861.9,"m":1850.6,"b":1840.5},
{"i":234,"u":1861.7,"m":1850.4,"b":1840.2},
{"i":235,"u":1861.5,"m":1850.1,"b":1840.0},
{"i":236,"u":1861.3,"m":1849.9,"b":1839.8},
{"i":237,"u":1861.1,"m":1849.6,"b":1839.7},
{"i":238,"u":1860.9,"m":1849.3,"b":1839.5},
{"i":239,"u":1860.7,"m":1849.1,"b":1839.4},
{"i":240,"u":1860.5,"m":1848.8,"b":1838.9},
{"i":241,"u":1860.3,"m":1848.6,"b":1838.4},
{"i":242,"u":1860.1,"m":1848.3,"b":1837.9},
{"i":243,"u":1859.9,"m":1848.0,"b":1837.5},
{"i":244,"u":1859.6,"m":1847.8,"b":1837.0},
{"i":245,"u":1859.4,"m":1847.5,"b":1836.8},
{"i":246,"u":1859.2,"m":1847.3,"b":1836.7},
{"i":247,"u":1859.0,"m":1847.0,"b":1836.5},
{"i":248,"u":1858.8,"m":1846.8,"b":1836.3},
{"i":249,"u":1858.6,"m":1846.5,"b":1836.1},
{"i":250,"u":1858.4,"m":1846.2,"b":1835.9},
{"i":251,"u":1858.2,"m":1846.0,"b":1835.8},
{"i":252,"u":1857.9,"m":1845.7,"b":1835.6},
{"i":253,"u":1857.7,"m":1845.5,"b":1835.4},
{"i":254,"u":1857.5,"m":1845.2,"b":1835.2},
{"i":255,"u":1857.3,"m":1844.9,"b":1835.0},
{"i":256,"u":1857.1,"m":1844.7,"b":1834.9},
{"i":257,"u":1856.9,"m":1844.4,"b":1834.7},
{"i":258,"u":1856.6,"m":1844.2,"b":1834.6},
{"i":259,"u":1856.4,"m":1843.9,"b":1834.4},
{"i":260,"u":1856.2,"m":1843.7,"b":1834.3},
{"i":261,"u":1856.0,"m":1843.4,"b":1834.1},
{"i":262,"u":1855.8,"m":1843.1,"b":1833.9},
{"i":263,"u":1855.6,"m":1842.9,"b":1833.7},
{"i":264,"u":1855.3,"m":1842.6,"b":1833.4},
{"i":265,"u":1855.1,"m":1842.4,"b":1833.2},
{"i":266,"u":1854.9,"m":1842.1,"b":1832.9},
{"i":267,"u":1854.7,"m":1841.8,"b":1832.7},
{"i":268,"u":1854.5,"m":1841.6,"b":1832.5},
{"i":269,"u":1854.2,"m":1841.3,"b":1832.2},
{"i":270,"u":1854.0,"m":1841.1,"b":1831.9},
{"i":271,"u":1853.8,"m":1840.8,"b":1831.6},
{"i":272,"u":1853.6,"m":1840.5,"b":1831.3},
{"i":273,"u":1853.4,"m":1840.3,"b":1831.0},
{"i":274,"u":1853.1,"m":1840.0,"b":1830.7},
{"i":275,"u":1852.9,"m":1839.8,"b":1830.3},
{"i":276,"u":1852.7,"m":1839.5,"b":1830.0},
{"i":277,"u":1852.5,"m":1839.3,"b":1829.7},
{"i":278,"u":1852.2,"m":1839.0,"b":1829.4},
{"i":279,"u":1852.0,"m":1838.7,"b":1829.1},
{"i":280,"u":1851.8,"m":1838.5,"b":1828.8},
{"i":281,"u":1851.6,"m":1838.2,"b":1828.5},
{"i":282,"u":1851.3,"m":1838.0,"b":1828.2},
{"i":283,"u":1851.1,"m":1837.7,"b":1827.9},
{"i":284,"u":1850.9,"m":1837.4,"b":1827.7},
{"i":285,"u":1850.7,"m":1837.2,"b":1827.2},
{"i":286,"u":1850.4,"m":1836.9,"b":1826.7},
{"i":287,"u":1850.2,"m":1836.7,"b":1826.3},
{"i":288,"u":1850.0,"m":1836.4,"b":1825.8},
{"i":289,"u":1849.8,"m":1836.1,"b":1825.3},
{"i":290,"u":1849.6,"m":1835.9,"b":1825.1},
{"i":291,"u":1849.4,"m":1835.6,"b":1824.9},
{"i":292,"u":1849.2,"m":1835.4,"b":1824.7},
{"i":293,"u":1849.0,"m":1835.1,"b":1824.5},
{"i":294,"u":1848.8,"m":1834.9,"b":1824.3},
{"i":295,"u":1848.6,"m":1834.6,"b":1824.1},
{"i":296,"u":1848.5,"m":1834.4,"b":1823.9},
{"i":297,"u":1848.3,"m":1834.2,"b":1823.7},
{"i":298,"u":1848.1,"m":1833.9,"b":1823.5},
{"i":299,"u":1847.9,"m":1833.7,"b":1823.4},
{"i":300,"u":1847.7,"m":1833.5,"b":1823.2},
{"i":301,"u":1847.5,"m":1833.3,"b":1823.2},
{"i":302,"u":1847.3,"m":1833.1,"b":1823.2},
{"i":303,"u":1847.1,"m":1832.9,"b":1823.1},
{"i":304,"u":1846.9,"m":1832.8,"b":1823.2},
{"i":305,"u":1846.8,"m":1832.6,"b":1823.4},
{"i":306,"u":1846.6,"m":1832.5,"b":1823.5},
{"i":307,"u":1846.4,"m":1832.4,"b":1823.7},
{"i":308,"u":1846.3,"m":1832.2,"b":1823.9},
{"i":309,"u":1846.1,"m":1832.1,"b":1823.9},
{"i":310,"u":1845.9,"m":1832.0,"b":1824.0},
{"i":311,"u":1845.7,"m":1832.0,"b":1824.1},
{"i":312,"u":1845.6,"m":1831.9,"b":1824.1},
{"i":313,"u":1845.4,"m":1831.8,"b":1824.2},
{"i":314,"u":1845.2,"m":1831.7,"b":1824.3},
{"i":315,"u":1845.1,"m":1831.6,"b":1824.4},
{"i":316,"u":1844.9,"m":1831.5,"b":1824.4},
{"i":317,"u":1844.7,"m":1831.5,"b":1824.5},
{"i":318,"u":1844.6,"m":1831.4,"b":1824.6},
{"i":319,"u":1844.4,"m":1831.3,"b":1824.7},
{"i":320,"u":1844.2,"m":1831.2,"b":1824.7},
{"i":321,"u":1844.1,"m":1831.1,"b":1824.8},
{"i":322,"u":1843.9,"m":1831.1,"b":1824.9},
{"i":323,"u":1843.8,"m":1831.0,"b":1825.0},
{"i":324,"u":1843.6,"m":1830.9,"b":1825.0},
{"i":325,"u":1843.5,"m":1830.8,"b":1825.1},
{"i":326,"u":1843.3,"m":1830.7,"b":1825.1},
{"i":327,"u":1843.1,"m":1830.7,"b":1825.2},
{"i":328,"u":1843.0,"m":1830.6,"b":1825.3},
{"i":329,"u":1842.8,"m":1830.5,"b":1825.4},
{"i":330,"u":1842.7,"m":1830.5,"b":1825.5},
{"i":331,"u":1842.5,"m":1830.4,"b":1825.6},
{"i":332,"u":1842.4,"m":1830.3,"b":1825.7},
{"i":333,"u":1842.2,"m":1830.3,"b":1825.8},
{"i":334,"u":1842.1,"m":1830.2,"b":1825.8},
{"i":335,"u":1841.9,"m":1830.1,"b":1825.8},
{"i":336,"u":1841.8,"m":1830.0,"b":1825.8},
{"i":337,"u":1841.6,"m":1830.0,"b":1825.8},
{"i":338,"u":1841.5,"m":1829.9,"b":1825.8},
{"i":339,"u":1841.4,"m":1829.8,"b":1825.8},
{"i":340,"u":1841.2,"m":1829.8,"b":1825.7},
{"i":341,"u":1841.1,"m":1829.7,"b":1825.7},
{"i":342,"u":1840.9,"m":1829.6,"b":1825.7},
{"i":343,"u":1840.8,"m":1829.6,"b":1825.6},
{"i":344,"u":1840.6,"m":1829.5,"b":1825.6},
{"i":345,"u":1840.5,"m":1829.4,"b":1825.5},
{"i":346,"u":1840.3,"m":1829.3,"b":1825.5},
{"i":347,"u":1840.2,"m":1829.2,"b":1825.4},
{"i":348,"u":1840.0,"m":1829.2,"b":1825.4},
{"i":349,"u":1839.9,"m":1829.1,"b":1825.3},
{"i":350,"u":1839.7,"m":1829.0,"b":1825.3},
{"i":351,"u":1839.6,"m":1828.9,"b":1825.2},
{"i":352,"u":1839.5,"m":1828.8,"b":1825.1},
{"i":353,"u":1839.3,"m":1828.8,"b":1825.1},
{"i":354,"u":1839.2,"m":1828.7,"b":1825.0},
{"i":355,"u":1839.0,"m":1828.6,"b":1824.9},
{"i":356,"u":1838.9,"m":1828.5,"b":1824.9},
{"i":357,"u":1838.7,"m":1828.4,"b":1824.8},
{"i":358,"u":1838.6,"m":1828.4,"b":1824.8},
{"i":359,"u":1838.4,"m":1828.3,"b":1824.7},
{"i":360,"u":1838.3,"m":1828.2,"b":1824.7},
{"i":361,"u":1838.2,"m":1828.2,"b":1824.6},
{"i":362,"u":1838.0,"m":1828.1,"b":1824.6},
{"i":363,"u":1837.9,"m":1828.0,"b":1824.5},
{"i":364,"u":1837.8,"m":1827.9,"b":1824.5},
{"i":365,"u":1837.7,"m":1827.9,"b":1824.4},
{"i":366,"u":1837.5,"m":1827.8,"b":1824.4},
{"i":367,"u":1837.4,"m":1827.7,"b":1824.3},
{"i":368,"u":1837.3,"m":1827.7,"b":1824.3},
{"i":369,"u":1837.1,"m":1827.6,"b":1824.2},
{"i":370,"u":1837.0,"m":1827.5,"b":1824.2},
{"i":371,"u":1836.9,"m":1827.5,"b":1824.1},
{"i":372,"u":1836.8,"m":1827.4,"b":1824.1},
{"i":373,"u":1836.6,"m":1827.3,"b":1824.0},
{"i":374,"u":1836.5,"m":1827.3,"b":1824.0},
{"i":375,"u":1836.4,"m":1827.2,"b":1823.9},
{"i":376,"u":1836.3,"m":1827.1,"b":1823.8},
{"i":377,"u":1836.2,"m":1827.0,"b":1823.7},
{"i":378,"u":1836.1,"m":1826.9,"b":1823.6},
{"i":379,"u":1835.9,"m":1826.9,"b":1823.6},
{"i":380,"u":1835.8,"m":1826.8,"b":1823.5},
{"i":381,"u":1835.7,"m":1826.7,"b":1823.4},
{"i":382,"u":1835.6,"m":1826.6,"b":1823.2},
{"i":383,"u":1835.5,"m":1826.5,"b":1823.1},
{"i":384,"u":1835.4,"m":1826.5,"b":1823.0},
{"i":385,"u":1835.2,"m":1826.4,"b":1823.0},
{"i":386,"u":1835.1,"m":1826.3,"b":1822.9},
{"i":387,"u":1835.0,"m":1826.2,"b":1822.9},
{"i":388,"u":1834.9,"m":1826.1,"b":1822.9},
{"i":389,"u":1834.8,"m":1826.1,"b":1822.9},
{"i":390,"u":1834.7,"m":1826.0,"b":1822.9}
]
},
"resolve":{"axis":{"y":"independent"}},
"layer":[
{"data":{"name":"band"},"mark":{"type":"rule","color":"#4169e1","strokeWidth":1,"clip":true},
 "encoding":{
  "x":{"field":"i","type":"quantitative","scale":{"domain":[-0.375,466.625],"nice":false,"zero":false},"axis":{"labels":false,"ticks":false,"domain":true,"domainColor":"#ffffff","domainWidth":1,"title":null,"grid":false}},
  "y":{"field":"u","type":"quantitative","scale":{"domain":[1813.36,1884.6],"nice":false,"zero":false},"axis":{"orient":"right","values":[1882.4,1878.1,1873.8,1869.5,1865.2,1860.9,1856.6,1852.3,1848.0,1843.7,1839.4,1835.1,1830.8,1826.5,1822.2,1817.9,1813.6],"format":".2f","title":null,"grid":false,"labelColor":"#ffffff","labelFont":"Liberation Sans","labelFontSize":10,"tickColor":"#ffffff","tickSize":3,"domainColor":"#ffffff","labelPadding":2,"labelFlush":false,"labelOverlap":false}},
  "y2":{"field":"b"}}},
{"data":{"name":"band"},"mark":{"type":"line","color":"#5f9ea0","strokeWidth":1,"clip":true},
 "encoding":{"x":{"field":"i","type":"quantitative","axis":null},"y":{"field":"u","type":"quantitative","axis":{"orient":"left","labels":false,"ticks":false,"domainColor":"#ffffff","title":null,"grid":false}}}},
{"data":{"name":"band"},"mark":{"type":"line","color":"#ff0000","strokeWidth":1,"clip":true},
 "encoding":{"x":{"field":"i","type":"quantitative","axis":null},"y":{"field":"b","type":"quantitative","axis":null}}},
{"data":{"name":"band"},"mark":{"type":"line","color":"#ffff00","strokeWidth":1,"clip":true},
 "encoding":{"x":{"field":"i","type":"quantitative","axis":null},"y":{"field":"m","type":"quantitative","axis":null}}},
{"data":{"values":[{}]},"mark":{"type":"rule","color":"#a0a0a8","strokeWidth":1},
 "encoding":{"y":{"datum":1821.48,"type":"quantitative","axis":null}}},
{"data":{"values":[{}]},"mark":{"type":"rule","color":"#22cc22","strokeWidth":1,"strokeDash":[9,6,3,6]},
 "encoding":{"y":{"datum":1821.97,"type":"quantitative","axis":null}}},
{"data":{"name":"bars"},"mark":{"type":"rule","color":"#00ff00","strokeWidth":1,"clip":true},
 "encoding":{"x":{"field":"i","type":"quantitative","axis":null},"y":{"field":"h","type":"quantitative","axis":null},"y2":{"field":"l"}}},
{"data":{"name":"bars"},"mark":{"type":"bar","width":2,"fill":"#ffffff","stroke":"#00ff00","strokeWidth":1,"clip":true},
 "encoding":{"x":{"field":"i","type":"quantitative","axis":null},"y":{"field":"o","type":"quantitative","axis":null},"y2":{"field":"c"}}},
{"data":{"values":[{}]},"mark":{"type":"text","text":"#41094532 sell 0.01","align":"left","baseline":"alphabetic","font":"Liberation Sans","fontSize":9,"color":"#e6e6e6"},
 "encoding":{"x":{"datum":1.625,"type":"quantitative","axis":null},"y":{"datum":1822.14,"type":"quantitative","axis":null}}},
{"data":{"values":[{}]},"mark":{"type":"text","text":"1821.4800","align":"right","baseline":"alphabetic","font":"Liberation Sans","fontSize":48,"fontWeight":"bold","color":"#ffff00"},
 "encoding":{"x":{"datum":465.875,"type":"quantitative","axis":null},"y":{"datum":1878.49,"type":"quantitative","axis":null}}},
{"data":{"values":[{}]},"mark":{"type":"text","text":"▲","align":"left","baseline":"alphabetic","font":"DejaVu Sans","fontSize":7,"color":"#ffffff"},
 "encoding":{"x":{"datum":0.625,"type":"quantitative","axis":null},"y":{"datum":1883.4,"type":"quantitative","axis":null}}},
{"data":{"values":[{}]},"mark":{"type":"text","text":"XAUUSD,M15  1822.26 1823.30 1821.36 1821.59","align":"left","baseline":"alphabetic","font":"Liberation Sans","fontSize":9.5,"color":"#ffffff"},
 "encoding":{"x":{"datum":3.625,"type":"quantitative","axis":null},"y":{"datum":1883.24,"type":"quantitative","axis":null}}},
{"data":{"values":[{}]},"mark":{"type":"rect","fill":{"gradient":"linear","x1":0,"y1":0,"x2":0,"y2":1,"stops":[{"offset":0,"color":"#f46868"},{"offset":1,"color":"#dc3434"}]}},
 "encoding":{"x":{"datum":0.625,"type":"quantitative","axis":null},"x2":{"datum":13.375},"y":{"datum":1882.26,"type":"quantitative","axis":null},"y2":{"datum":1879.14}}},
{"data":{"values":[{}]},"mark":{"type":"rect","fill":{"gradient":"linear","x1":0,"y1":0,"x2":0,"y2":1,"stops":[{"offset":0,"color":"#f46868"},{"offset":1,"color":"#dc3434"}]}},
 "encoding":{"x":{"datum":42.375,"type":"quantitative","axis":null},"x2":{"datum":55.375},"y":{"datum":1882.26,"type":"quantitative","axis":null},"y2":{"datum":1879.14}}},
{"data":{"values":[{}]},"mark":{"type":"rect","fill":{"gradient":"linear","x1":0,"y1":0,"x2":0,"y2":1,"stops":[{"offset":0,"color":"#dc2626"},{"offset":1,"color":"#b00808"}]}},
 "encoding":{"x":{"datum":0.625,"type":"quantitative","axis":null},"x2":{"datum":27.625},"y":{"datum":1879.14,"type":"quantitative","axis":null},"y2":{"datum":1874.85}}},
{"data":{"values":[{}]},"mark":{"type":"rect","fill":{"gradient":"linear","x1":0,"y1":0,"x2":0,"y2":1,"stops":[{"offset":0,"color":"#dc2626"},{"offset":1,"color":"#b00808"}]}},
 "encoding":{"x":{"datum":28.375,"type":"quantitative","axis":null},"x2":{"datum":55.375},"y":{"datum":1879.14,"type":"quantitative","axis":null},"y2":{"datum":1874.85}}},
{"data":{"values":[{}]},"mark":{"type":"rect","fill":"#3a3a3a"},
 "encoding":{"x":{"datum":13.875,"type":"quantitative","axis":null},"x2":{"datum":41.875},"y":{"datum":1882.39,"type":"quantitative","axis":null},"y2":{"datum":1879.14}}},
{"data":{"values":[{}]},"mark":{"type":"rect","fill":{"gradient":"linear","x1":0,"y1":0,"x2":0,"y2":1,"stops":[{"offset":0,"color":"#f4f4f4"},{"offset":1,"color":"#d4d4d4"}]}},
 "encoding":{"x":{"datum":14.375,"type":"quantitative","axis":null},"x2":{"datum":19.375},"y":{"datum":1882.13,"type":"quantitative","axis":null},"y2":{"datum":1879.4}}},
{"data":{"values":[{}]},"mark":{"type":"rect","fill":"#ffffff"},
 "encoding":{"x":{"datum":19.625,"type":"quantitative","axis":null},"x2":{"datum":36.375},"y":{"datum":1882.13,"type":"quantitative","axis":null},"y2":{"datum":1879.4}}},
{"data":{"values":[{}]},"mark":{"type":"rect","fill":{"gradient":"linear","x1":0,"y1":0,"x2":0,"y2":1,"stops":[{"offset":0,"color":"#f4f4f4"},{"offset":1,"color":"#d4d4d4"}]}},
 "encoding":{"x":{"datum":36.625,"type":"quantitative","axis":null},"x2":{"datum":41.625},"y":{"datum":1882.13,"type":"quantitative","axis":null},"y2":{"datum":1879.4}}},
{"data":{"values":[{}]},"mark":{"type":"rule","color":"#a81818","strokeWidth":1},
 "encoding":{"x":{"datum":1.625,"type":"quantitative","axis":null},"x2":{"datum":12.625},"y":{"datum":1879.27,"type":"quantitative","axis":null}}},
{"data":{"values":[{}]},"mark":{"type":"rule","color":"#a81818","strokeWidth":1},
 "encoding":{"x":{"datum":43.375,"type":"quantitative","axis":null},"x2":{"datum":54.375},"y":{"datum":1879.27,"type":"quantitative","axis":null}}},
{"data":{"values":[{}]},"mark":{"type":"text","text":"SELL","align":"center","baseline":"middle","font":"Liberation Sans","fontSize":11,"color":"#ffffff"},
 "encoding":{"x":{"datum":7.0,"type":"quantitative","axis":null},"y":{"datum":1880.7,"type":"quantitative","axis":null}}},
{"data":{"values":[{}]},"mark":{"type":"text","text":"BUY","align":"center","baseline":"middle","font":"Liberation Sans","fontSize":11,"color":"#ffffff"},
 "encoding":{"x":{"datum":48.875,"type":"quantitative","axis":null},"y":{"datum":1880.7,"type":"quantitative","axis":null}}},
{"data":{"values":[{}]},"mark":{"type":"text","text":"0.01","align":"right","baseline":"middle","font":"Liberation Sans","fontSize":12,"color":"#1a4a9a"},
 "encoding":{"x":{"datum":35.375,"type":"quantitative","axis":null},"y":{"datum":1880.77,"type":"quantitative","axis":null}}},
{"data":{"values":[{}]},"mark":{"type":"text","text":"▼","align":"center","baseline":"middle","font":"DejaVu Sans","fontSize":6,"color":"#202020"},
 "encoding":{"x":{"datum":16.875,"type":"quantitative","axis":null},"y":{"datum":1880.77,"type":"quantitative","axis":null}}},
{"data":{"values":[{}]},"mark":{"type":"text","text":"▲","align":"center","baseline":"middle","font":"DejaVu Sans","fontSize":6,"color":"#202020"},
 "encoding":{"x":{"datum":39.125,"type":"quantitative","axis":null},"y":{"datum":1880.77,"type":"quantitative","axis":null}}},
{"data":{"values":[{}]},"mark":{"type":"text","text":"1821","align":"left","baseline":"alphabetic","font":"Liberation Sans","fontSize":13,"fontWeight":"bold","color":"#ffffff"},
 "encoding":{"x":{"datum":6.375,"type":"quantitative","axis":null},"y":{"datum":1875.5,"type":"quantitative","axis":null}}},
{"data":{"values":[{}]},"mark":{"type":"text","text":"48","align":"left","baseline":"alphabetic","font":"Liberation Sans","fontSize":31,"color":"#ffffff"},
 "encoding":{"x":{"datum":14.125,"type":"quantitative","axis":null},"y":{"datum":1875.7,"type":"quantitative","axis":null}}},
{"data":{"values":[{}]},"mark":{"type":"text","text":"1821","align":"left","baseline":"alphabetic","font":"Liberation Sans","fontSize":13,"fontWeight":"bold","color":"#ffffff"},
 "encoding":{"x":{"datum":34.125,"type":"quantitative","axis":null},"y":{"datum":1875.5,"type":"quantitative","axis":null}}},
{"data":{"values":[{}]},"mark":{"type":"text","text":"83","align":"left","baseline":"alphabetic","font":"Liberation Sans","fontSize":31,"color":"#ffffff"},
 "encoding":{"x":{"datum":42.125,"type":"quantitative","axis":null},"y":{"datum":1875.7,"type":"quantitative","axis":null}}},
{"data":{"values":[{}]},"mark":{"type":"rect","fill":"#ffffff"},
 "encoding":{"x":{"datum":466.875,"type":"quantitative","axis":null},"x2":{"datum":471.125},"y":{"datum":1822.07,"type":"quantitative","axis":null},"y2":{"datum":1820.77}}},
{"data":{"values":[{}]},"mark":{"type":"text","text":"1821.48","align":"left","baseline":"alphabetic","font":"Liberation Sans","fontSize":10,"color":"#000000"},
 "encoding":{"x":{"datum":467.875,"type":"quantitative","axis":null},"y":{"datum":1820.97,"type":"quantitative","axis":null}}},
{"data":{"values":[{}]},"mark":{"type":"point","shape":"triangle-down","filled":true,"size":45,"color":"#7890a8"},
 "encoding":{"x":{"datum":391.375,"type":"quantitative","axis":null},"y":{"datum":1884.67,"type":"quantitative","axis":null}}}
]
}
